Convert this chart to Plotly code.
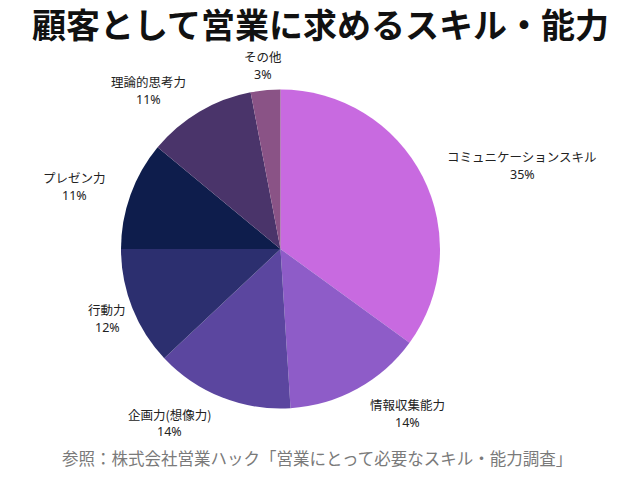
import plotly.graph_objects as go

labels = ["コミュニケーションスキル", "情報収集能力", "企画力(想像力)", "行動力", "プレゼン力", "理論的思考力", "その他"]
values = [35, 14, 14, 12, 11, 11, 3]
colors = ["#c86ae0", "#8e5cc8", "#5b469f", "#2c2f6f", "#0e1d4c", "#4a346a", "#8a5386"]

title_text = "顧客として営業に求めるスキル・能力"
source_text = "参照：株式会社営業ハック「営業にとって必要なスキル・能力調査」"

# label block centres (pixels in a 640x480 canvas)
label_pos = [(522, 165.5), (407, 413.5), (169, 423), (107, 318.5),
             (74, 186.5), (148, 90.5), (263, 65.5)]
half_gap = 8.9

W, H = 640, 480
cx, cy, r = 280.5, 249, 159.5

fig = go.Figure(go.Pie(
    labels=labels,
    values=values,
    sort=False,
    direction="clockwise",
    rotation=0,
    marker=dict(colors=colors, line=dict(width=0)),
    textinfo="none",
    hoverinfo="label+percent",
    showlegend=False,
    domain=dict(x=[(cx - r) / W, (cx + r) / W], y=[(H - cy - r) / H, (H - cy + r) / H]),
))

font_family = "Noto Sans CJK JP"
total = sum(values)
annotations = []
for lab, val, (px, pc) in zip(labels, values, label_pos):
    annotations.append(dict(
        x=px / W, y=1 - (pc - half_gap) / H, xref="paper", yref="paper",
        text=lab, showarrow=False, xanchor="center", yanchor="middle",
        borderpad=0, borderwidth=0,
        font=dict(family=font_family, size=12.5, color="#222222"),
    ))
    annotations.append(dict(
        x=px / W, y=1 - (pc + half_gap) / H, xref="paper", yref="paper",
        text=f"{round(val / total * 100)}%", showarrow=False, xanchor="center", yanchor="middle",
        borderpad=0, borderwidth=0,
        font=dict(family="Noto Sans", size=12.5, color="#222222"),
    ))

annotations.append(dict(
    x=0.5, y=1 - 23 / H, xref="paper", yref="paper",
    text=f"<b>{title_text}</b>", showarrow=False,
    xanchor="center", yanchor="middle",
    font=dict(family=font_family, size=34, color="#111111"),
))
annotations.append(dict(
    x=317 / W, y=1 - 458 / H, xref="paper", yref="paper",
    text=source_text, showarrow=False,
    xanchor="center", yanchor="middle",
    font=dict(family=font_family, size=16.5, color="#7a7a7a"),
))

fig.update_layout(
    width=W, height=H,
    margin=dict(l=0, r=0, t=0, b=0),
    paper_bgcolor="white", plot_bgcolor="white",
    annotations=annotations,
)

fig.write_html("out.html")
